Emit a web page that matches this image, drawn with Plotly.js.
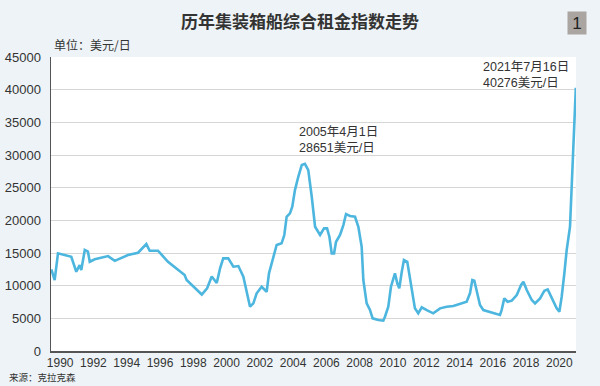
<!DOCTYPE html>
<html>
<head>
<meta charset="utf-8">
<script src="https://cdn.plot.ly/plotly-3.0.1.min.js"></script>
<style>
html,body{margin:0;padding:0;background:#eef3f7;}
#chart{width:600px;height:386px;}
</style>
</head>
<body>
<div id="chart"></div>
<script>
// Decimal-year positions of the readings
const years = [
  1990.02,1990.22,1990.42,1991.22,1991.52,1991.72,1991.82,1991.92,1992.03,1992.22,
  1992.33,1992.63,1993.43,1993.83,1994.63,1995.23,1995.53,1995.73,1995.93,1996.43,
  1997.03,1997.43,1998.03,1998.15,1998.55,1998.77,1999.06,1999.38,1999.66,1999.96,
  2000.16,2000.35,2000.65,2000.96,2001.26,2001.56,2001.76,2001.96,2002.16,2002.36,
  2002.66,2002.96,2003.10,2003.30,2003.56,2003.86,2004.02,2004.16,2004.36,2004.50,
  2004.66,2004.86,2005.07,2005.26,2005.46,2005.67,2005.87,2006.17,2006.41,2006.59,
  2006.73,2006.87,2007.01,2007.13,2007.37,2007.57,2007.73,2007.97,2008.27,2008.47,
  2008.67,2008.77,2008.97,2009.17,2009.33,2009.67,2009.97,2010.07,2010.27,2010.43,
  2010.67,2010.81,2010.93,2011.08,2011.21,2011.41,2011.57,2011.74,2011.87,2012.07,
  2012.28,2012.58,2012.97,2013.38,2013.78,2014.18,2014.58,2014.98,2015.18,2015.32,
  2015.44,2015.58,2015.78,2015.98,2016.38,2016.68,2016.98,2017.08,2017.24,2017.44,
  2017.69,2017.99,2018.25,2018.39,2018.59,2018.89,2019.09,2019.39,2019.65,2019.85,
  2020.09,2020.39,2020.55,2020.69,2020.85,2020.99,2021.19,2021.29,2021.39,2021.49,
  2021.54
];
// Charter rate index, USD/day
const rates = [
  12500,10860,14950,14430,12130,13150,12400,13800,15450,15200,
  13660,14030,14530,13800,14690,15040,15860,16370,15350,15350,
  13660,12900,11630,10860,9840,9330,8650,9600,11400,10400,
  12650,14180,14180,12900,13000,11370,8830,6780,7300,8830,
  9840,9070,11890,13920,16220,16480,17750,20550,21070,22080,
  24630,26670,28460,28651,27690,23610,19020,17750,18770,18770,
  17490,14950,14950,16720,17750,19280,20960,20660,20550,19020,
  15960,10860,7300,6270,5000,4740,4640,5250,6780,9840,
  11890,10360,9590,12130,13920,13660,11370,8570,6530,5770,
  6680,6270,5770,6530,6780,6880,7190,7540,8830,10860,
  10760,9070,7040,6270,6010,5770,5510,6270,8060,7540,
  7700,8570,10100,10600,9330,7800,7300,8060,9230,9440,
  8060,6530,6010,8310,11890,15450,19020,25140,31780,36870,
  40276
];
const tickYears = [1990,1992,1994,1996,1998,2000,2002,2004,2006,2008,2010,2012,2014,2016,2018,2020];
const yTicks = [0,5000,10000,15000,20000,25000,30000,35000,40000,45000];
const titleText = '历年集装箱船综合租金指数走势';
const unitText = '单位：美元/日';
const sourceText = '来源：克拉克森';
const peak2005 = ['2005年4月1日','28651美元/日'];
const peak2021 = ['2021年7月16日','40276美元/日'];

const latin = 'Liberation Sans, Arial, Noto Sans CJK SC, sans-serif';
const cjk = 'Noto Sans CJK SC, Liberation Sans, sans-serif';

const trace = {
  x: years, y: rates, type: 'scatter', mode: 'lines',
  line: {color: '#4cb6df', width: 2.6, shape: 'linear'},
  hoverinfo: 'skip'
};

const layout = {
  width: 600, height: 386,
  margin: {l: 51, r: 24, t: 57, b: 35, pad: 0},
  paper_bgcolor: '#eef3f7',
  plot_bgcolor: '#ffffff',
  showlegend: false,
  title: {
    text: '<b>' + titleText + '</b>',
    font: {family: cjk, size: 17, color: '#333333'},
    x: 0.5, xref: 'container', xanchor: 'center',
    y: 1 - 22/386, yref: 'container', yanchor: 'middle'
  },
  xaxis: {
    range: [1990, 2021.55],
    tickmode: 'array',
    tickvals: tickYears.map(v => v + 0.55),
    ticktext: tickYears.map(String),
    showgrid: false, zeroline: false,
    showline: true, linecolor: '#555555', linewidth: 1.5,
    ticks: '', ticklen: 0,
    tickfont: {family: latin, size: 12, color: '#333333'},
    fixedrange: true
  },
  yaxis: {
    range: [0, 45000],
    tickmode: 'array',
    tickvals: yTicks,
    ticktext: yTicks.map(String),
    showgrid: true, gridcolor: '#d6d6d6', gridwidth: 1,
    zeroline: false,
    showline: true, linecolor: '#555555', linewidth: 1.5,
    ticks: '', ticklen: 0,
    ticklabelstandoff: 6,
    tickfont: {family: latin, size: 13, color: '#333333'},
    fixedrange: true
  },
  annotations: [
    {
      xref: 'paper', yref: 'paper', x: 0.002, y: (351-44)/294,
      xanchor: 'left', yanchor: 'middle', showarrow: false,
      text: unitText, font: {family: cjk, size: 12, color: '#333333'}
    },
    {
      xref: 'paper', yref: 'paper', x: (7-51)/525, y: (351-377)/294,
      xanchor: 'left', yanchor: 'middle', showarrow: false,
      text: sourceText, font: {family: cjk, size: 9.5, color: '#333333'}
    },
    {
      xref: 'paper', yref: 'paper', x: (297-51)/525, y: (351-123)/294,
      xanchor: 'left', yanchor: 'top', align: 'left', showarrow: false,
      text: peak2005.join('<br>'), font: {family: latin, size: 12.5, color: '#333333'}
    },
    {
      xref: 'paper', yref: 'paper', x: (481-51)/525, y: (351-58)/294,
      xanchor: 'left', yanchor: 'top', align: 'left', showarrow: false,
      text: peak2021.join('<br>'), font: {family: latin, size: 12.5, color: '#333333'}
    },
    {
      xref: 'paper', yref: 'paper', x: (577-51)/525, y: (351-23)/294,
      xanchor: 'center', yanchor: 'middle', showarrow: false,
      text: '1', bgcolor: '#aaa5a1', width: 16, height: 20,
      font: {family: latin, size: 17, color: '#222222'}
    }
  ]
};

Plotly.newPlot('chart', [trace], layout, {staticPlot: true, displayModeBar: false});
</script>
</body>
</html>
